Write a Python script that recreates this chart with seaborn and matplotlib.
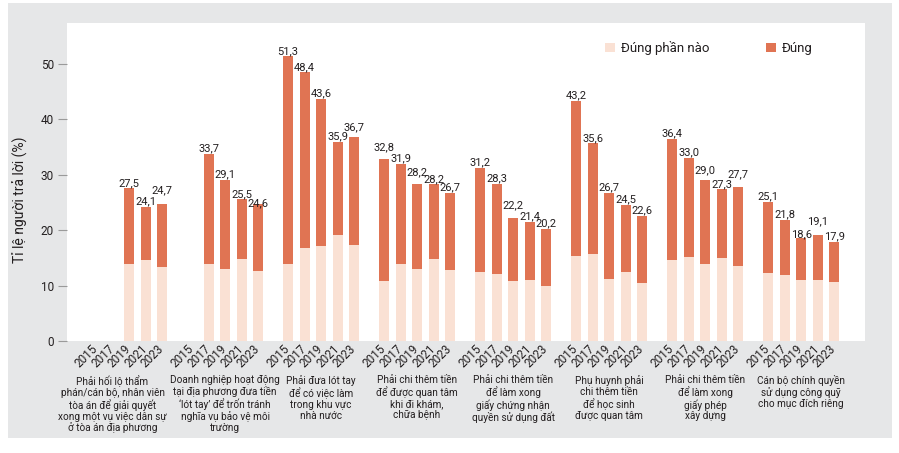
import numpy as np
import pandas as pd
import matplotlib
matplotlib.use("Agg")
import matplotlib.pyplot as plt
import matplotlib.transforms as mtransforms
from matplotlib.patches import Rectangle, Patch
import seaborn as sns

# ---------------- data ----------------
years = ["2015", "2017", "2019", "2021", "2023"]
groups = [
    "Phải hối lộ thẩm\nphán/cán bộ, nhân viên\ntòa án để giải quyết\nxong một vụ việc dân sự\nở tòa án địa phương",
    "Doanh nghiệp hoạt động\ntại địa phương đưa tiền\n‘lót tay’ để trốn tránh\nnghĩa vụ bảo vệ môi\ntrường",
    "Phải đưa lót tay\nđể có việc làm\ntrong khu vực\nnhà nước",
    "Phải chi thêm tiền\nđể được quan tâm\nkhi đi khám,\nchữa bệnh",
    "Phải chi thêm tiền\nđể làm xong\ngiấy chứng nhận\nquyền sử dụng đất",
    "Phụ huynh phải\nchi thêm tiền\nđể học sinh\nđược quan tâm",
    "Phải chi thêm tiền\nđể làm xong\ngiấy phép\nxây dựng",
    "Cán bộ chính quyền\nsử dụng công quỹ\ncho mục đích riêng",
]
# total (Đúng + Đúng phần nào) per group, per year
total_g1 = [np.nan, np.nan, 27.5, 24.1, 24.7]
total_g2 = [np.nan, 33.7, 29.1, 25.5, 24.6]
total_g3 = [51.3, 48.4, 43.6, 35.9, 36.7]
total_g4 = [32.8, 31.9, 28.2, 28.2, 26.7]
total_g5 = [31.2, 28.3, 22.2, 21.4, 20.2]
total_g6 = [43.2, 35.6, 26.7, 24.5, 22.6]
total_g7 = [36.4, 33.0, 29.0, 27.3, 27.7]
total_g8 = [25.1, 21.8, 18.6, 19.1, 17.9]
# "Đúng phần nào" part (estimated)
part_g1 = [np.nan, np.nan, 13.9, 14.6, 13.3]
part_g2 = [np.nan, 13.9, 13.0, 14.8, 12.6]
part_g3 = [13.9, 16.8, 17.1, 19.1, 17.3]
part_g4 = [10.8, 13.9, 13.0, 14.8, 12.8]
part_g5 = [12.4, 12.0, 10.8, 11.0, 9.9]
part_g6 = [15.3, 15.7, 11.2, 12.4, 10.4]
part_g7 = [14.6, 15.1, 13.9, 14.9, 13.5]
part_g8 = [12.2, 11.9, 11.0, 11.0, 10.6]

totals = [total_g1, total_g2, total_g3, total_g4, total_g5, total_g6, total_g7, total_g8]
parts = [part_g1, part_g2, part_g3, part_g4, part_g5, part_g6, part_g7, part_g8]

legend_labels = ["Đúng phần nào", "Đúng"]
y_label = "Tỉ lệ người trả lời (%)"
y_ticks = [0, 10, 20, 30, 40, 50]

# ---------------- style ----------------
DARK = "#e07453"
LIGHT = "#fae1d4"
BG = "#e6e7e8"
TXT = "#231f20"
GROUP_STEP = 5.818
PX = 1 / 5.548  # one pixel in data units (y)
# extra vertical nudges (pixels) of some value labels, as in the reference
label_nudge = {(0, 4): 8, (1, 4): -4, (2, 4): 5, (3, 0): 6, (3, 2): 7,
               (4, 2): 7, (6, 2): 4, (6, 4): 7, (7, 3): 8, (7, 2): -2}

sns.set_theme(style="white")
plt.rcParams["font.family"] = ["Roboto", "DejaVu Sans"]

rows = []
for gi in range(len(groups)):
    for yi, yr in enumerate(years):
        rows.append({"pos": gi * GROUP_STEP + yi, "year": yr, "g": gi, "yi": yi,
                     "total": totals[gi][yi], "part": parts[gi][yi]})
df_all = pd.DataFrame(rows)
df = df_all.dropna(subset=["total"]).reset_index(drop=True)

fig = plt.figure(figsize=(8.99, 4.53), dpi=100)
fig.patch.set_facecolor("white")
fig.patches.append(Rectangle((8 / 899, 15 / 453), 884 / 899, 435 / 453,
                             transform=fig.transFigure, facecolor=BG,
                             edgecolor="none", zorder=-10))
ax = fig.add_axes([67 / 899, 112 / 453, 798 / 899, 318 / 453])
ax.set_facecolor("white")

sns.barplot(data=df, x="pos", y="total", native_scale=True, width=0.606,
            color=DARK, saturation=1, linewidth=0, errorbar=None, ax=ax)
sns.barplot(data=df, x="pos", y="part", native_scale=True, width=0.606,
            color=LIGHT, saturation=1, linewidth=0, errorbar=None, ax=ax)

for _, r in df.iterrows():
    nudge = label_nudge.get((int(r["g"]), int(r["yi"])), 0) * PX
    ax.text(r["pos"], r["total"] + 0.1 + nudge,
            f"{r['total']:.1f}".replace(".", ","),
            ha="center", va="bottom", fontsize=8, color=TXT)

ax.set_xlim(-1.76, 46.6)
ax.set_ylim(0, 57.3)
ax.set_yticks(y_ticks)
ax.set_yticklabels([str(t) for t in y_ticks], fontsize=8.5, color=TXT)
ax.tick_params(axis="y", length=6.5, width=0.8, color="#9a9a9a", pad=3, left=True)

ax.set_xticks(df_all["pos"].tolist())
ax.set_xticklabels(df_all["year"].tolist(), rotation=45, ha="right",
                   va="center", rotation_mode="anchor", fontsize=8.5, color=TXT)
ax.tick_params(axis="x", length=0, pad=4)
ax.set_xlabel("")

for s in ax.spines.values():
    s.set_visible(False)

ax.set_ylabel(y_label, fontsize=10, color=TXT)
ax.yaxis.set_label_coords(-0.049, 0.443)

trans = mtransforms.blended_transform_factory(ax.transData, ax.transAxes)
for gi, g in enumerate(groups):
    cx = gi * GROUP_STEP + 2
    if gi == 0:
        cx -= 1.0
    ax.text(cx, -0.108, g, transform=trans, ha="center", va="top",
            fontsize=7.2, color=TXT, linespacing=1.1)

handles = [Patch(facecolor=LIGHT, edgecolor="none"), Patch(facecolor=DARK, edgecolor="none")]
ax.legend(handles, legend_labels, ncol=2, frameon=False, fontsize=9.5,
          loc="center left", bbox_to_anchor=(593 / 899, 1 - 48 / 453),
          bbox_transform=fig.transFigure, handlelength=0.75, handleheight=0.75,
          handletextpad=0.45, columnspacing=4.3, labelcolor=TXT)

fig.savefig("out.png", dpi=100, facecolor="white")
